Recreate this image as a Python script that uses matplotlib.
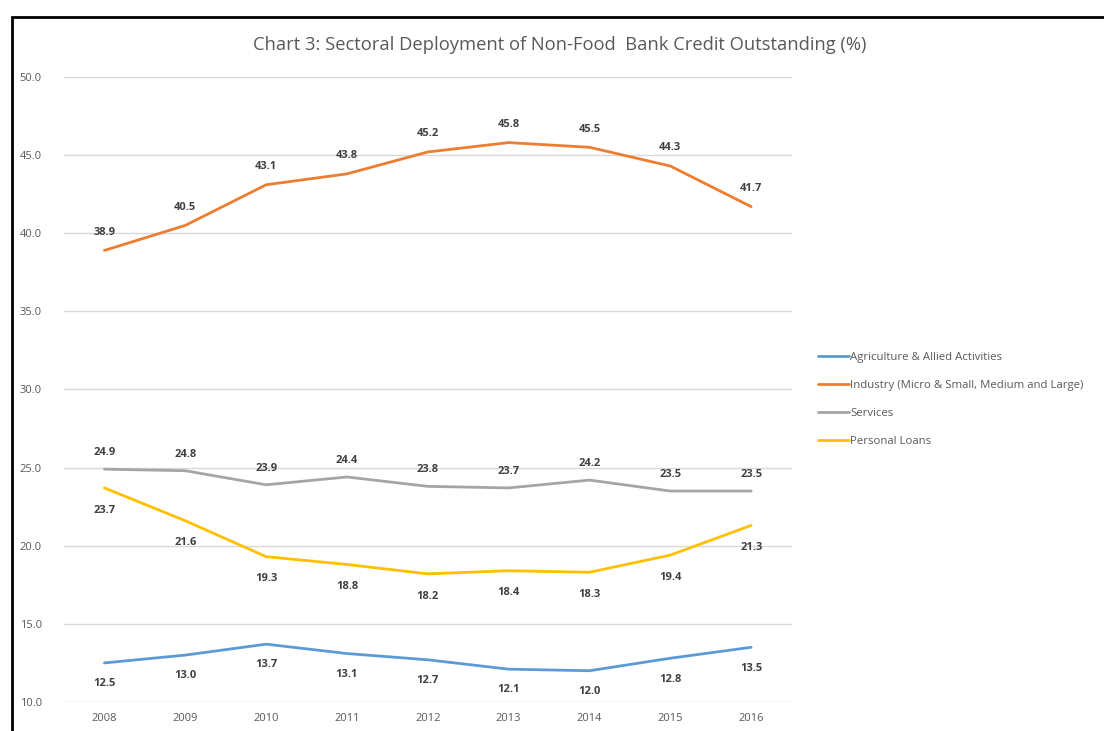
import matplotlib.pyplot as plt
from matplotlib.patches import Rectangle

years = ['2008', '2009', '2010', '2011', '2012', '2013', '2014', '2015', '2016']
agriculture = [12.5, 13.0, 13.7, 13.1, 12.7, 12.1, 12.0, 12.8, 13.5]
industry = [38.9, 40.5, 43.1, 43.8, 45.2, 45.8, 45.5, 44.3, 41.7]
services = [24.9, 24.8, 23.9, 24.4, 23.8, 23.7, 24.2, 23.5, 23.5]
personal = [23.7, 21.6, 19.3, 18.8, 18.2, 18.4, 18.3, 19.4, 21.3]

series = [
    ('Agriculture & Allied Activities', agriculture, '#5B9BD5', -15),
    ('Industry (Micro & Small, Medium and Large)', industry, '#ED7D31', 13),
    ('Services', services, '#A5A5A5', 12),
    ('Personal Loans', personal, '#FFC000', -16),
]

plt.rcParams['font.family'] = ['Open Sans', 'DejaVu Sans']

fig = plt.figure(figsize=(11.04, 7.31), dpi=100)
ax = fig.add_axes([0.058, 0.0397, 0.659, 0.855])

x = list(range(len(years)))
for name, vals, color, off in series:
    ax.plot(x, vals, color=color, lw=2.0, label=name, solid_capstyle='round')
    for xi, v in zip(x, vals):
        ax.annotate(f'{v:.1f}', (xi, v), xytext=(0, off), textcoords='offset points',
                    ha='center', va='center', fontsize=8, fontweight='bold',
                    color='#404040')

ax.set_xlim(-0.5, len(years) - 0.5)
ax.set_ylim(10, 50)
ax.set_yticks(range(10, 51, 5))
ax.set_yticklabels([f'{t:.1f}' for t in range(10, 51, 5)])
ax.set_xticks(x)
ax.set_xticklabels(years)
ax.grid(axis='y', color='#D9D9D9', lw=1)
ax.set_axisbelow(True)
for s in ax.spines.values():
    s.set_visible(False)
ax.tick_params(length=0, labelsize=8, colors='#595959', pad=8)
ax.tick_params(axis='y', pad=32)
for lbl in ax.get_yticklabels():
    lbl.set_ha('left')

fig.text(0.507, 0.938, 'Chart 3: Sectoral Deployment of Non-Food  Bank Credit Outstanding (%)',
         ha='center', va='center', fontsize=13.2, color='#595959')

leg = fig.legend(loc='upper left', bbox_to_anchor=(0.732, 0.533), frameon=False,
                 fontsize=8.2, labelcolor='#595959', handlelength=2.7, handletextpad=0.1,
                 labelspacing=1.5)
for h in leg.get_lines():
    h.set_linewidth(2.0)

fig.patches.append(Rectangle((0.011, -0.1), 1.2, 0.1 + 1 - 17 / 731, transform=fig.transFigure,
                             fill=False, edgecolor='black', lw=2))

fig.savefig('out.png', dpi=100)
